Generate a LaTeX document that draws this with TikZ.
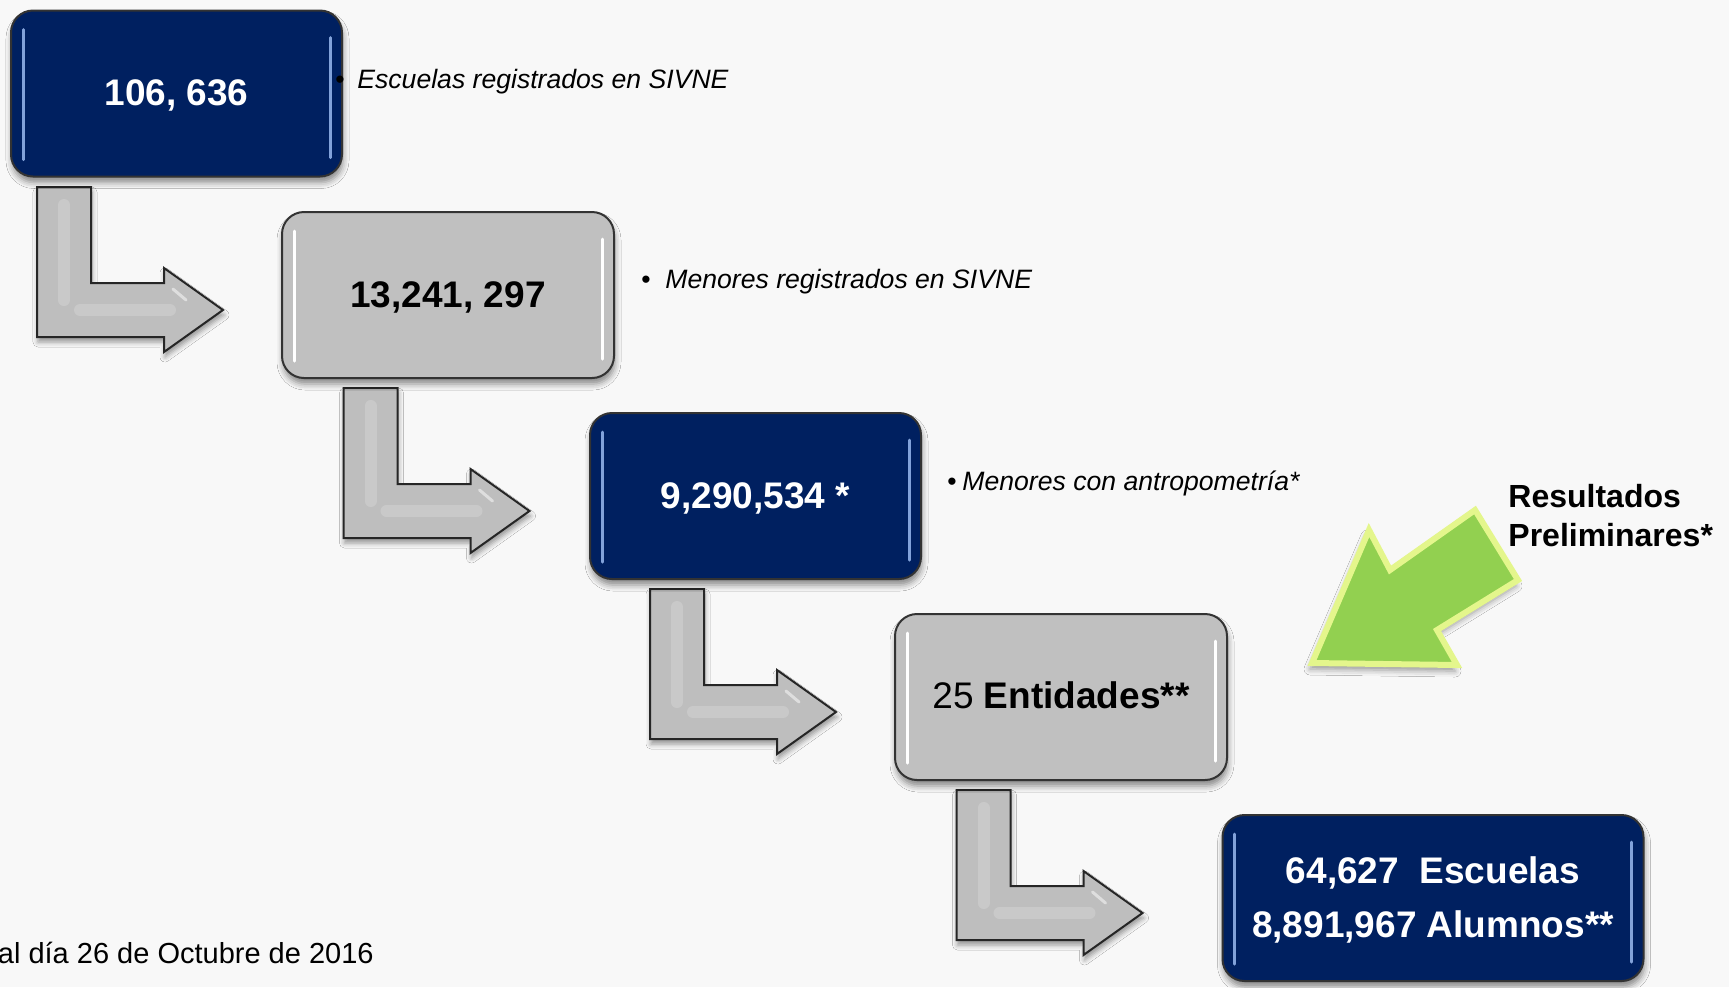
\documentclass[tikz,border=0pt]{standalone}
\usepackage{fontspec}
\setmainfont{Liberation Sans}
\usetikzlibrary{shadows.blur}
\definecolor{bg}{RGB}{248,248,248}
\definecolor{navy}{RGB}{0,32,96}
\definecolor{boxgray}{RGB}{192,192,192}
\definecolor{arrgray}{RGB}{190,190,190}
\definecolor{lgreen}{RGB}{146,208,80}
\definecolor{lyellow}{RGB}{228,246,140}
\definecolor{hlblue}{RGB}{130,162,218}
\newcommand\glossme[2]{%
  \draw[hl,#2] ([xshift=6.5pt,yshift=-10pt]#1.north west) -- ([xshift=6.5pt,yshift=9pt]#1.south west);
  \draw[hl,#2] ([xshift=-6.5pt,yshift=-14pt]#1.north east) -- ([xshift=-6.5pt,yshift=10pt]#1.south east);}
\begin{document}
\begin{tikzpicture}[x=0.5pt,y=-0.5pt,
  card/.style={rounded corners=11pt, minimum height=83pt, inner sep=0pt, draw=black!80, line width=1pt,
    blur shadow={shadow xshift=0.5pt, shadow yshift=-3pt, shadow blur radius=3pt, shadow opacity=45}},
  bluecard/.style={card, fill=navy},
  graycard/.style={card, fill=boxgray},
  numtext/.style={anchor=base, inner sep=0pt, font=\fontsize{18.5pt}{22pt}\selectfont\bfseries},
  note/.style={anchor=base west, inner sep=0pt, font=\fontsize{13.3pt}{15pt}\selectfont\itshape},
  bulletdot/.style={anchor=base, inner sep=0pt, font=\fontsize{13.3pt}{15pt}\selectfont},
  hl/.style={line width=1.5pt, line cap=round},
  bent/.style={fill=arrgray, draw=black!85, line width=1pt, line join=miter,
    blur shadow={shadow xshift=0.5pt, shadow yshift=-2.5pt, shadow blur radius=2.5pt, shadow opacity=40}},
  sheen/.style={white, opacity=0.18, line width=6pt, line cap=round},
]
\fill[bg] (0,0) rectangle (1729,987);
\useasboundingbox (0,0) rectangle (1729,987);

% bent arrows
\foreach \k in {0,1,2,3}{
  \begin{scope}[shift={({306.5*\k},{201*\k})}]
    \path[bent] (37,187) -- (91,187) -- (91,283) -- (164,283) -- (164,268) -- (223,310)
      -- (164,352) -- (164,337) -- (37,337) -- cycle;
    \draw[sheen] (64,205) -- (64,300);
    \draw[sheen] (80,310) -- (170,310);
    \draw[white, opacity=0.5, line width=1.5pt, line cap=round] (173,289) -- (186,300);
  \end{scope}
}

% boxes
\node[bluecard, minimum width=165.5pt] (b1) at (176.5,93.5) {};
\node[graycard, minimum width=166pt] (b2) at (448,295) {};
\node[bluecard, minimum width=165.5pt] (b3) at (755.5,496) {};
\node[graycard, minimum width=166pt] (b4) at (1061,697) {};
\node[bluecard, minimum width=210.5pt] (b5) at (1433,898) {};
\glossme{b1}{hlblue}
\glossme{b2}{white}
\glossme{b3}{hlblue}
\glossme{b4}{white}
\glossme{b5}{hlblue}

% box texts
\node[numtext, text=white] (t1) at ([yshift=-5.75pt]b1.center) {106, 636};
\node[numtext, text=black] (t2) at ([yshift=-6pt]b2.center) {13,241, 297};
\node[numtext, text=white] (t3) at ([yshift=-6pt]b3.center) {9,290,534 *};
\node[numtext, text=black] (t4) at ([yshift=-5.5pt]b4.center) {\mdseries 25 \textbf{Entidades**}};
\node[numtext, text=white] (t5a) at ([yshift=7.5pt]b5.center) {64,627\ \ Escuelas};
\node[numtext, text=white] (t5b) at ([yshift=-19.5pt]b5.center) {8,891,967 Alumnos**};

% notes
\node[bulletdot] (d1) at (340,88) {•};
\node[note] (n1) at (357,88) {Escuelas registrados en SIVNE};
\node[bulletdot] (d2) at (646,288) {•};
\node[note] (n2) at (665,288) {Menores registrados en SIVNE};
\node[bulletdot] (d3) at (952,490) {•};
\node[note] (n3) at (962,490) {Menores con antropometría*};

% green arrow
\path[fill=lgreen, draw=lyellow, line width=3pt, line join=miter,
  blur shadow={shadow xshift=-1pt, shadow yshift=-3pt, shadow blur radius=3pt, shadow opacity=40}]
  (1312,663) -- (1369,530) -- (1390,570) -- (1475,510) -- (1518,580) -- (1437,630) -- (1457,665) -- cycle;
\node[anchor=base west, inner sep=0pt, font=\fontsize{16pt}{18pt}\selectfont\bfseries] (r1) at (1508,507) {Resultados};
\node[anchor=base west, inner sep=0pt, font=\fontsize{16pt}{18pt}\selectfont\bfseries] (r2) at (1508,546) {Preliminares*};

% date
\node[anchor=base east, inner sep=0pt, font=\fontsize{14.5pt}{16pt}\selectfont] (date) at (374,963) {al día 26 de Octubre de 2016};
\end{tikzpicture}
\end{document}
